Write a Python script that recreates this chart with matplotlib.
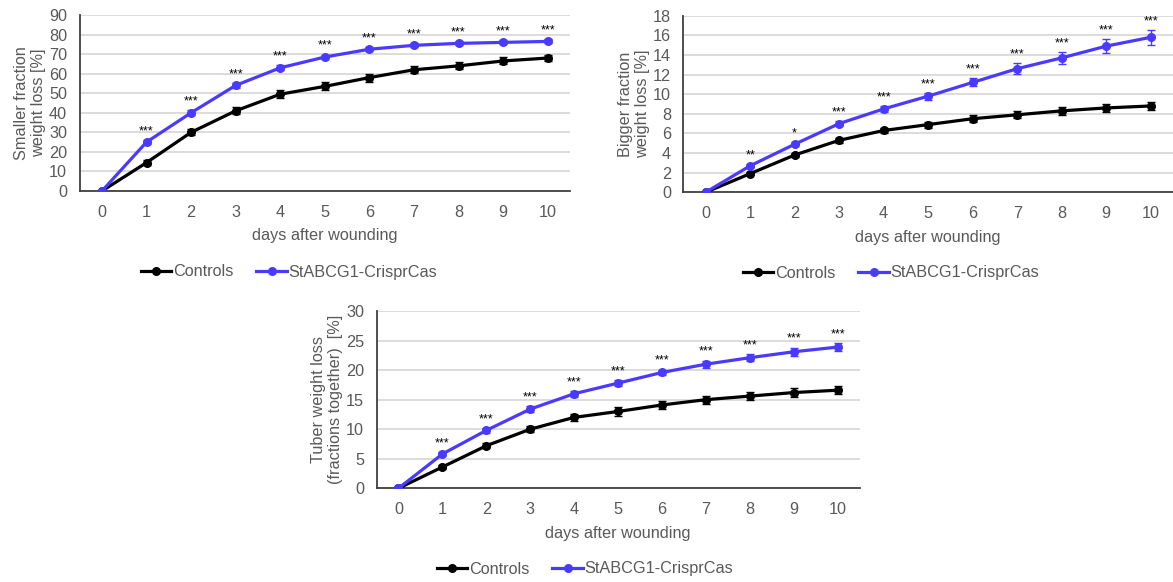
import matplotlib
matplotlib.use("Agg")
import matplotlib.pyplot as plt
from matplotlib.lines import Line2D
import numpy as np

plt.rcParams['font.family'] = ['Liberation Sans', 'DejaVu Sans']

days = list(range(11))

# Panel 1: smaller fraction
small_ctrl = [0, 14.5, 30, 41, 49.5, 53.5, 58, 62, 64, 66.5, 68]
small_ctrl_err = [0, 1.2, 1.5, 1.8, 2.0, 2.0, 2.0, 1.8, 1.8, 1.8, 1.6]
small_cr = [0, 25, 40, 54, 63, 68.5, 72.5, 74.5, 75.5, 76, 76.5]
small_cr_err = [0, 1.0, 1.2, 1.2, 1.2, 1.2, 1.0, 1.0, 1.0, 1.0, 1.0]
small_sig = ['', '***', '***', '***', '***', '***', '***', '***', '***', '***', '***']

# Panel 2: bigger fraction
big_ctrl = [0, 1.9, 3.8, 5.3, 6.3, 6.9, 7.5, 7.9, 8.3, 8.6, 8.8]
big_ctrl_err = [0, 0.15, 0.2, 0.25, 0.3, 0.3, 0.35, 0.35, 0.4, 0.45, 0.45]
big_cr = [0, 2.7, 4.9, 7.0, 8.5, 9.8, 11.2, 12.6, 13.7, 14.9, 15.8]
big_cr_err = [0, 0.15, 0.2, 0.25, 0.3, 0.35, 0.4, 0.55, 0.6, 0.7, 0.75]
big_sig = ['', '**', '*', '***', '***', '***', '***', '***', '***', '***', '***']

# Panel 3: tuber (fractions together)
tub_ctrl = [0, 3.6, 7.2, 10, 12, 13, 14.1, 15, 15.6, 16.2, 16.6]
tub_ctrl_err = [0, 0.3, 0.4, 0.5, 0.6, 0.7, 0.7, 0.7, 0.7, 0.7, 0.7]
tub_cr = [0, 5.8, 9.8, 13.4, 16, 17.8, 19.6, 21, 22.1, 23.1, 23.9]
tub_cr_err = [0, 0.3, 0.4, 0.5, 0.5, 0.5, 0.5, 0.6, 0.6, 0.7, 0.7]
tub_sig = ['', '***', '***', '***', '***', '***', '***', '***', '***', '***', '***']

labels = ['Controls', 'StABCG1-CrisprCas']
xlabel = 'days after wounding'

BLACK = '#000000'
BLUE = '#4a3aff'
GRAY = '#595959'
FS = 11.7

fig = plt.figure(figsize=(11.73, 5.82), dpi=100)

panels = [
    dict(rect=[0.0679, 0.6718, 0.418, 0.3024], ctrl=small_ctrl, ce=small_ctrl_err,
         cr=small_cr, re=small_cr_err, sig=small_sig, ymax=90, ystep=10,
         ylabel='Smaller fraction\nweight loss [%]', leg=(289/1173, 1-272/582)),
    dict(rect=[0.5826, 0.6696, 0.4174, 0.3034], ctrl=big_ctrl, ce=big_ctrl_err,
         cr=big_cr, re=big_cr_err, sig=big_sig, ymax=18, ystep=2,
         ylabel='Bigger fraction\nweight loss [%]', leg=(891/1173, 1-273/582)),
    dict(rect=[0.321, 0.161, 0.4118, 0.3046], ctrl=tub_ctrl, ce=tub_ctrl_err,
         cr=tub_cr, re=tub_cr_err, sig=tub_sig, ymax=30, ystep=5,
         ylabel='Tuber weight loss\n(fractions together)  [%]', leg=(585/1173, 1-569/582)),
]

for p in panels:
    ax = fig.add_axes(p['rect'])
    ax.set_xlim(-0.5, 10.5)
    ax.set_ylim(0, p['ymax'])
    ax.set_yticks(np.arange(0, p['ymax'] + 0.01, p['ystep']))
    ax.set_xticks(days)
    ax.grid(axis='y', color='#d9d9d9', linewidth=1.3)
    ax.set_axisbelow(True)
    for s in ['top', 'right']:
        ax.spines[s].set_visible(False)
    for s in ['left', 'bottom']:
        ax.spines[s].set_color('#404040')
        ax.spines[s].set_linewidth(1.3)
    ax.tick_params(length=0, labelsize=FS, colors=GRAY)
    ax.tick_params(axis='y', pad=9)
    ax.tick_params(axis='x', pad=10)
    ax.errorbar(days, p['ctrl'], yerr=p['ce'], color=BLACK, lw=2.3, marker='o',
                ms=5.5, capsize=3, elinewidth=1, capthick=1, zorder=3)
    ax.errorbar(days, p['cr'], yerr=p['re'], color=BLUE, lw=2.3, marker='o',
                ms=5.5, capsize=3, elinewidth=1, capthick=1, zorder=4)
    for d, v, e, s in zip(days, p['cr'], p['re'], p['sig']):
        if s:
            ax.annotate(s, (d, v + e), xytext=(0, 2), textcoords='offset points',
                        ha='center', va='bottom', fontsize=9, color='#000000',
                        annotation_clip=False)
    ax.set_xlabel(xlabel, fontsize=FS, color=GRAY, labelpad=6)
    ax.set_ylabel(p['ylabel'], fontsize=FS, color=GRAY, labelpad=2, linespacing=1.15)
    handles = [Line2D([], [], color=BLACK, lw=2.3, marker='o', ms=5.5),
               Line2D([], [], color=BLUE, lw=2.3, marker='o', ms=5.5)]
    fig.legend(handles, labels, loc='center', bbox_to_anchor=p['leg'], ncol=2,
               frameon=False, fontsize=FS, handlelength=1.9, handletextpad=0.1,
               columnspacing=1.4, labelcolor=GRAY)

fig.savefig('out.png', dpi=100)
